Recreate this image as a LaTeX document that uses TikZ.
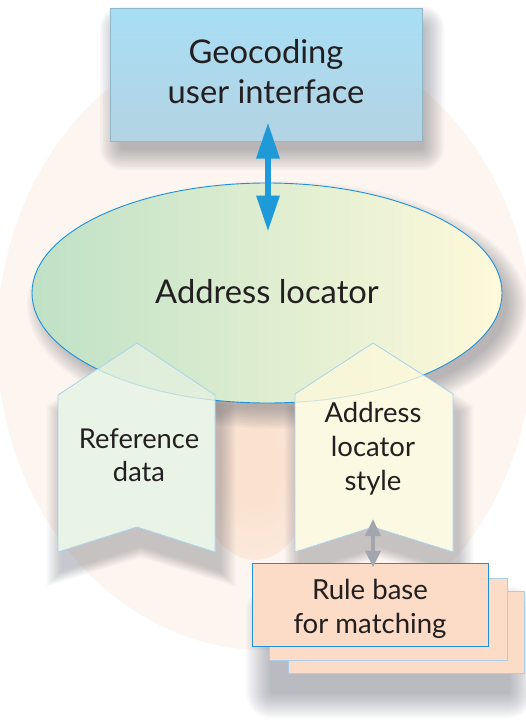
\documentclass[tikz,border=0pt]{standalone}
\usepackage{fontspec}
\setmainfont{Lato}
\usetikzlibrary{arrows.meta,shapes.geometric,calc}
\definecolor{txt}{HTML}{231F20}
\definecolor{uiTop}{HTML}{A8DEF5}
\definecolor{uiBot}{HTML}{B4D3E3}
\definecolor{uiLine}{HTML}{92B6C9}
\definecolor{ellG}{HTML}{BFE1C6}
\definecolor{ellY}{HTML}{FEF9DA}
\definecolor{ellLine}{HTML}{1E90D8}
\definecolor{arrBlue}{HTML}{1E9AD8}
\definecolor{arrGray}{HTML}{A4A6AE}
\definecolor{chevG}{HTML}{E4F1E0}
\definecolor{chevY}{HTML}{FCF8DB}
\definecolor{chevLine}{HTML}{A8D2EE}
\definecolor{ruleFill}{HTML}{FCDCC6}
\definecolor{ruleBack}{HTML}{A8D0EE}
\definecolor{glowc}{HTML}{FDF5F0}
\definecolor{midc}{HTML}{FAE2D0}
\definecolor{shadc}{HTML}{4E5260}
\pgfdeclareradialshading{glow}{\pgfpoint{0bp}{0bp}}{color(0bp)=(glowc); color(30bp)=(glowc); color(50bp)=(white)}
\pgfdeclareradialshading{midglow}{\pgfpoint{0bp}{0bp}}{color(0bp)=(midc); color(10bp)=(midc); color(50bp)=(glowc)}
\tikzset{
  lbl/.style={text=txt, align=center, inner sep=0pt},
  chevbox/.style={draw=chevLine, line width=0.8pt, fill opacity=0.8},
  rulebox/.style={fill=ruleFill, draw=ruleBack, line width=1pt},
  shadlayer/.style={fill=shadc, opacity=#1},
}
% soft shadows built from stacked translucent layers
\newcommand\mkshadrect[6]{%
  \foreach \i in {1,...,14}{%
    \pgfmathsetmacro\ee{#5*\i/14}%
    \fill[shadlayer=#6, rounded corners=\ee pt] ({#1-#3-\ee},{#2-#4-\ee}) rectangle ({#1+#3+\ee},{#2+#4+\ee});
  }}
\newcommand\mkshadell[6]{%
  \foreach \i in {1,...,14}{%
    \pgfmathsetmacro\ee{#5*\i/14}%
    \fill[shadlayer=#6] (#1,#2) ellipse [x radius={#3+\ee}, y radius={#4+\ee}];
  }}
\newcommand\mkshadchev[4]{%
  \foreach \i in {1,...,14}{%
    \pgfmathsetmacro\ee{#3*\i/14}%
    \pgfmathsetmacro\sx{(78.5+\ee)/78.5}%
    \pgfmathsetmacro\sy{(104.5+\ee)/104.5}%
    \fill[shadlayer=#4, shift={(#1,#2)}, xscale=\sx, yscale=\sy]
      (-78.5,52.5) -- (0,104.5) -- (78.5,52.5) -- (78.5,-104.5) -- (0,-79.5) -- (-78.5,-104.5) -- cycle;
  }}
\begin{document}
\begin{tikzpicture}[x=1pt,y=1pt]
\useasboundingbox (0,0) rectangle (526,-723);
\fill[white] (0,0) rectangle (526,-723);
% background glow
\shade[shading=glow] (265,-340) ellipse [x radius=268, y radius=310];
\shade[shading=midglow] (255,-465) ellipse [x radius=60, y radius=95];

% shadow of top box
\mkshadrect{272}{-88}{150}{60}{22}{0.03}
% top box
\node[rectangle, minimum width=312pt, minimum height=133pt, top color=uiTop, bottom color=uiBot,
  draw=uiLine, line width=1pt, inner sep=0pt] (ui) at (266,-74.5) {};
\node[lbl, font=\fontsize{32.7}{40}\selectfont] (uitext) at ($(ui.center)+(0,3)$) {Geocoding\\user interface};

% chevron shadows
\mkshadchev{141}{-466}{16}{0.022}
\mkshadchev{379}{-466}{16}{0.022}

% ellipse shadow
\mkshadell{277}{-305}{228}{102}{22}{0.03}

% opaque white bases under the chevrons
\fill[white] (58,-395) -- (137,-343) -- (215,-395) -- (215,-552) -- (137,-527) -- (58,-552) -- cycle;
\fill[white] (295,-394) -- (373,-343) -- (453,-394) -- (453,-552) -- (373,-527) -- (295,-552) -- cycle;

% ellipse
\node[ellipse, minimum width=470pt, minimum height=220pt, left color=ellG, right color=ellY,
  draw=ellLine, line width=0.9pt, inner sep=0pt] (loc) at (267,-293) {};
\node[lbl, font=\fontsize{32.7}{36}\selectfont] (loctext) at ($(loc.center)+(0,1)$) {Address locator};

% blue double arrow
\draw[arrBlue, line width=6pt, {Triangle[width=22pt,length=36pt]}-{Triangle[width=22pt,length=36pt]}]
  ($(ui.south)+(2,19)$) -- ($(loc.north)+(1,-49)$);

% chevrons
\path[chevbox, fill=chevG] (58,-395) -- (137,-343) -- (215,-395) -- (215,-552) -- (137,-527) -- (58,-552) -- cycle;
\path[chevbox, fill=chevY] (295,-394) -- (373,-343) -- (453,-394) -- (453,-552) -- (373,-527) -- (295,-552) -- cycle;
\coordinate (refc) at (139,-455);
\coordinate (stylec) at (373,-449);
\coordinate (stylebot) at (373,-519);
\node[lbl, font=\fontsize{27.3}{33}\selectfont] (reftext) at (refc) {Reference\\data};
\node[lbl, font=\fontsize{27.5}{34}\selectfont] (styletext) at (stylec) {Address\\locator\\style};

% rule base stack
\mkshadrect{390}{-652}{118}{40}{26}{0.032}
\path[rulebox] (288,-591) rectangle (524,-673);
\path[rulebox] (269,-578) rectangle (507,-660);
\node[rectangle, fill=ruleFill, draw=ellLine, line width=1pt, minimum width=236pt, minimum height=83pt, inner sep=0pt] (rule) at (370,-604.5) {};
\node[lbl, font=\fontsize{27.6}{34}\selectfont] (ruletext) at ($(rule.center)+(0,-4)$) {Rule base\\for matching};

% gray double arrow
\draw[arrGray, line width=4pt, {Triangle[width=15pt,length=17pt]}-{Triangle[width=15pt,length=17pt]}]
  (stylebot) -- ($(rule.north)+(3,-5)$);
\end{tikzpicture}
\end{document}
